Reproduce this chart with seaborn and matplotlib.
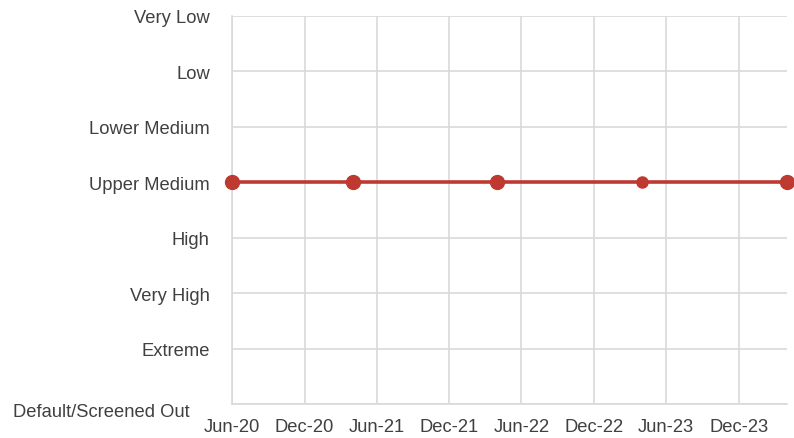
import pandas as pd
import matplotlib.pyplot as plt
import matplotlib.dates as mdates
import matplotlib.transforms as mtransforms
import seaborn as sns

# rating scale, bottom to top
levels = ["Default/Screened Out", "Extreme", "Very High", "High",
          "Upper Medium", "Lower Medium", "Low", "Very Low"]

# observations
dates = ["2020-06-01", "2021-04-01", "2022-04-01", "2023-04-01", "2024-04-01"]
ratings = ["Upper Medium", "Upper Medium", "Upper Medium", "Upper Medium", "Upper Medium"]
marker_sizes = [10, 10, 10, 8, 10]

tick_dates = ["2020-06-01", "2020-12-01", "2021-06-01", "2021-12-01",
              "2022-06-01", "2022-12-01", "2023-06-01", "2023-12-01"]

df = pd.DataFrame({"date": pd.to_datetime(dates),
                   "score": [levels.index(r) for r in ratings],
                   "size": marker_sizes})

sns.set_style("white")
plt.rcParams['font.family'] = ['Liberation Sans', 'DejaVu Sans']

red = "#BE3A31"
grid = "#D9D9D9"
txt = "#404040"

fig = plt.figure(figsize=(7.94, 4.39), dpi=100)
ax = fig.add_axes([0.2922, 0.0774, 0.9912 - 0.2922, 0.9613 - 0.0774])

sns.lineplot(data=df, x="date", y="score", color=red, linewidth=2.6, ax=ax, zorder=3)
for _, row in df.iterrows():
    ax.plot(row["date"], row["score"], "o", color=red, markersize=row["size"],
            zorder=4, clip_on=False)

ax.set_ylim(0, len(levels) - 1)
ax.set_yticks(range(len(levels)))
ax.set_yticklabels(levels)
ax.set_xlim(pd.Timestamp("2020-06-01"), pd.Timestamp("2024-04-01"))
ax.set_xticks(pd.to_datetime(tick_dates))
ax.xaxis.set_major_formatter(mdates.DateFormatter("%b-%y"))

ax.grid(True, color=grid, linewidth=1.2)
ax.set_axisbelow(True)
for s in ["top", "right"]:
    ax.spines[s].set_visible(False)
for s in ["left", "bottom"]:
    ax.spines[s].set_color(grid)
    ax.spines[s].set_linewidth(1.2)

ax.tick_params(axis="y", length=0, pad=16, labelsize=13.2, labelcolor=txt)
ax.tick_params(axis="x", length=0, pad=10, labelsize=13.2, labelcolor=txt)
ax.set_xlabel("")
ax.set_ylabel("")

# bottom label sits a bit lower and further left
lab = ax.get_yticklabels()[0]
off = mtransforms.ScaledTranslation(-20 / 100, -5 / 100, fig.dpi_scale_trans)
lab.set_transform(lab.get_transform() + off)

fig.savefig("out.png", dpi=100)
